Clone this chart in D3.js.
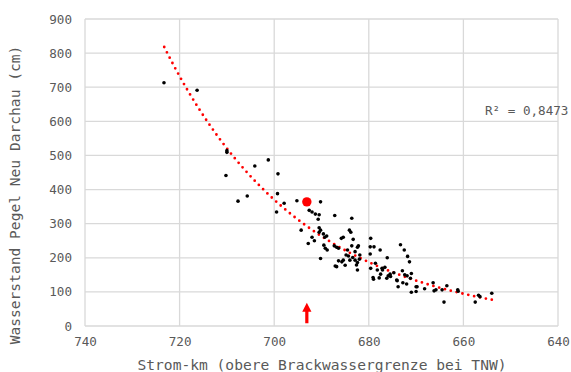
<!DOCTYPE html>
<html>
<head>
<meta charset="utf-8">
<script src="https://cdn.jsdelivr.net/npm/d3@7"></script>
<style>
  body { margin: 0; background: #fff; }
  text { font-family: "DejaVu Sans Mono", monospace; fill: #595959; }
</style>
</head>
<body>
<div id="chart"></div>
<script>
// Strom-km of the upper brackish water limit vs. water level at Neu Darchau
const km = [
  723.3, 716.3, 710.0, 710.0, 710.2, 704.1, 701.25, 699.2, 707.65, 705.7,
  699.3, 699.5, 697.9, 695.2, 690.2, 692.6, 692.0, 691.3, 690.5, 690.7,
  687.2, 683.6, 694.3, 692.8, 692.0, 691.5, 690.5, 690.2, 690.5, 689.6,
  689.3, 688.9, 689.5, 689.2, 688.8, 690.2, 687.3, 686.8, 686.4, 685.8,
  685.4, 684.1, 683.8, 683.3, 683.6, 682.9, 682.4, 682.2, 684.5, 684.8,
  684.3, 685.4, 686.4, 685.7, 687.1, 686.8, 685.0, 684.0, 683.4, 682.9,
  682.4, 682.0, 682.6, 682.4, 681.9, 679.6, 679.7, 678.9, 677.6, 679.7,
  678.6, 679.6, 679.1, 679.0, 678.2, 677.8, 677.2, 676.6, 676.1, 675.9,
  675.5, 675.4, 674.7, 674.0, 673.8, 673.3, 672.5, 671.8, 671.4, 672.9,
  672.4, 672.8, 672.0, 671.0, 670.0, 669.8, 671.0, 670.0, 671.9, 671.2,
  668.2, 666.4, 666.2, 665.8, 663.5, 664.1, 661.2, 661.1, 657.5, 656.8,
  656.5, 654.0, 664.5, 677.1, 677.5, 676.2, 674.1
]
const level = [
  713, 691, 514, 509, 441, 469, 487, 446, 366, 381,
  388, 334, 360, 367, 364, 339, 334, 328, 326, 313,
  324, 316, 281, 242, 260, 250, 288, 281, 275, 270,
  260, 264, 237, 228, 223, 198, 235, 231, 228, 257,
  260, 281, 275, 254, 235, 218, 231, 235, 223, 208,
  205, 193, 191, 188, 176, 174, 178, 193, 201, 193,
  186, 196, 179, 164, 208, 257, 232, 232, 223, 211,
  184, 169, 142, 137, 164, 141, 169, 172, 200, 147,
  152, 145, 156, 133, 115, 238, 223, 204, 188, 162,
  150, 127, 123, 154, 115, 115, 99, 101, 147, 140,
  109, 127, 103, 106, 118, 70, 106, 102, 70, 90,
  86, 96, 106, 164, 152, 140, 135
]
// highlighted observation
const markKm = [693.1]
const markLevel = [364]

const xTicks = [740, 720, 700, 680, 660, 640]
const yTicks = [0, 100, 200, 300, 400, 500, 600, 700, 800, 900]
const rSquaredLabel = "R² = 0,8473"
const xLabel = "Strom-km (obere Brackwassergrenze bei TNW)"
const yLabel = "Wasserstand Pegel Neu Darchau (cm)"

const width = 571
const height = 372
const margin = {top: 19, right: 13, bottom: 46, left: 85}

const points = km.map((k, i) => ({x: k, y: level[i]}))

// exponential trendline, least squares on ln(y) like the spreadsheet does
function expFit(data) {
  const n = data.length
  const mx = d3.mean(data, d => d.x)
  const my = d3.mean(data, d => Math.log(d.y))
  let sxy = 0, sxx = 0
  data.forEach(d => {
    sxy += (d.x - mx) * (Math.log(d.y) - my)
    sxx += (d.x - mx) * (d.x - mx)
  })
  const b = sxy / sxx
  const a = Math.exp(my - b * mx)
  return x => a * Math.exp(b * x)
}

const svg = d3.select("#chart").append("svg")
    .attr("width", width)
    .attr("height", height)

const x = d3.scaleLinear()
    .domain([740, 640])
    .range([margin.left, width - margin.right])

const y = d3.scaleLinear()
    .domain([0, 900])
    .range([height - margin.bottom, margin.top])

// grid
svg.append("g")
    .attr("stroke", "#d9d9d9")
    .attr("stroke-width", 1.3)
  .call(g => g.selectAll("line.h")
    .data(yTicks)
    .join("line")
      .attr("x1", x(740)).attr("x2", x(640))
      .attr("y1", d => y(d)).attr("y2", d => y(d)))
  .call(g => g.selectAll("line.v")
    .data(xTicks)
    .join("line")
      .attr("y1", y(0)).attr("y2", y(900))
      .attr("x1", d => x(d)).attr("x2", d => x(d)))

// axes (labels only, lines are in the grid)
svg.append("g")
    .attr("transform", `translate(0,${y(0)})`)
    .call(d3.axisBottom(x).tickValues(xTicks).tickSize(0).tickPadding(11))
    .call(g => g.select(".domain").remove())
    .call(g => g.selectAll("text").attr("font-size", 12.6).attr("font-family", null))

svg.append("g")
    .attr("transform", `translate(${margin.left},0)`)
    .call(d3.axisLeft(y).tickValues(yTicks).tickSize(0).tickPadding(13))
    .call(g => g.select(".domain").remove())
    .call(g => g.selectAll("text").attr("font-size", 12.6).attr("font-family", null))

// trendline
const trend = expFit(points)
const [xmin, xmax] = d3.extent(points, d => d.x)
const trendData = d3.range(200).map(i => xmin + (xmax - xmin) * i / 199)

svg.append("path")
    .datum(trendData)
    .attr("fill", "none")
    .attr("stroke", "#ff0000")
    .attr("stroke-width", 2.8)
    .attr("stroke-linecap", "round")
    .attr("stroke-dasharray", "0 6")
    .attr("d", d3.line().x(d => x(d)).y(d => y(trend(d))))

// observations
svg.append("g")
    .attr("fill", "#000")
  .selectAll("circle")
  .data(points)
  .join("circle")
    .attr("cx", d => x(d.x))
    .attr("cy", d => y(d.y))
    .attr("r", 1.8)

svg.append("g")
    .attr("fill", "#ff0000")
  .selectAll("circle")
  .data(markKm)
  .join("circle")
    .attr("cx", d => x(d))
    .attr("cy", (d, i) => y(markLevel[i]))
    .attr("r", 4.7)

// red arrow pointing up at the highlighted km
const ax = x(markKm[0])
const aTop = y(68), aNeck = y(42), aBottom = y(8)
svg.append("path")
    .attr("fill", "#ff0000")
    .attr("d", `M${ax},${aTop} L${ax + 4.6},${aNeck} L${ax + 1.6},${aNeck} L${ax + 1.6},${aBottom}
                L${ax - 1.6},${aBottom} L${ax - 1.6},${aNeck} L${ax - 4.6},${aNeck} Z`)

svg.append("text")
    .attr("x", 485)
    .attr("y", 115)
    .attr("font-size", 12.6)
    .text(rSquaredLabel)

svg.append("text")
    .attr("x", 322)
    .attr("y", 370)
    .attr("text-anchor", "middle")
    .attr("font-size", 14.6)
    .text(xLabel)

svg.append("text")
    .attr("transform", `translate(20,${195}) rotate(-90)`)
    .attr("text-anchor", "middle")
    .attr("font-size", 14.6)
    .text(yLabel)
</script>
</body>
</html>
